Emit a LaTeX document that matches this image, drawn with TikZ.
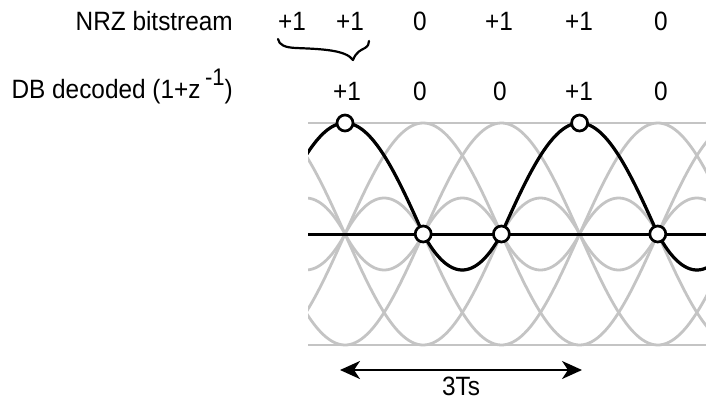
\documentclass[tikz,border=0pt]{standalone}
\usepackage{fontspec}
\setmainfont{Liberation Sans}[FakeStretch=0.92]
\usetikzlibrary{arrows.meta}
\definecolor{eyegray}{RGB}{196,196,196}
\tikzset{
  lbl/.style={font=\fontsize{26.5}{30}\selectfont, inner sep=0pt, text=black},
  graycurve/.style={draw=eyegray, line width=2.8pt, line join=round},
  blackcurve/.style={draw=black, line width=3.2pt, line join=round, line cap=round},
  samplept/.style={circle, draw=black, fill=white, line width=2.7pt, minimum size=16pt, inner sep=0pt},
}
\begin{document}
\begin{tikzpicture}[x=1pt,y=-1pt]
\useasboundingbox (0,0) rectangle (706,402);
\def\T{78.2}
\def\H{36}
% labels
\node[lbl, anchor=base east] (nrz) at (233,30) {NRZ bitstream};
\node[lbl, anchor=base east] (db) at (233,98) {DB decoded (1+z\,\raisebox{13pt}{\fontsize{24}{24}\selectfont -1})};
\node[lbl, anchor=base] (n1) at (292,30) {+1};
\node[lbl, anchor=base] (n2) at (350,30) {+1};
\node[lbl, anchor=base] (n3) at (420,30) {0};
\node[lbl, anchor=base] (n4) at (499,30) {+1};
\node[lbl, anchor=base] (n5) at (579,30) {+1};
\node[lbl, anchor=base] (n6) at (661,30) {0};
\node[lbl, anchor=base] (d1) at (347,100) {+1};
\node[lbl, anchor=base] (d2) at (420,100) {0};
\node[lbl, anchor=base] (d3) at (500,100) {0};
\node[lbl, anchor=base] (d4) at (579,100) {+1};
\node[lbl, anchor=base] (d5) at (661,100) {0};
% brace
\draw[line width=2.2pt, line cap=round, line join=round]
  (278,39) .. controls (279,45) and (285,47.5) .. (296,48)
  .. controls (322,49) and (346,50) .. (353,60)
  .. controls (356,52) and (361,50) .. (365,48)
  .. controls (368,46) and (369,44) .. (369,41);
% eye diagram
\begin{scope}
\clip (308,100) rectangle (706,360);
\draw[graycurve] (300,123) -- (710,123);
\draw[graycurve] (300,345) -- (710,345);
\foreach \k in {0,1,2,3}{
  \draw[graycurve] plot[domain=300:710, samples=140, smooth] (\x, {234-111*cos(90*((\x-345)/\T) + 90*\k)});
}
\foreach \xa in {266.8,345,423.2,501.4,579.6,657.8}{
  \draw[graycurve] plot[domain=\xa:\xa+\T, samples=30, smooth]
      (\x, {234-4*\H*((\x-\xa)/\T)*(1-(\x-\xa)/\T)});
  \draw[graycurve] plot[domain=\xa:\xa+\T, samples=30, smooth]
      (\x, {234+4*\H*((\x-\xa)/\T)*(1-(\x-\xa)/\T)});
}
\draw[black, line width=3pt] (300,234) -- (710,234);
\draw[blackcurve]
  plot[domain=300:423.2, samples=60, smooth] (\x, {234-111*cos(90*((\x-345)/\T))})
  -- plot[domain=423.2:501.4, samples=30, smooth]
      (\x, {234+4*\H*((\x-423.2)/\T)*(1-(\x-423.2)/\T)})
  -- plot[domain=501.4:657.8, samples=80, smooth] (\x, {234-111*cos(90*((\x-579.6)/\T))})
  -- plot[domain=657.8:736, samples=30, smooth]
      (\x, {234+4*\H*((\x-657.8)/\T)*(1-(\x-657.8)/\T)});
\end{scope}
\node[samplept] (s1) at (345,123) {};
\node[samplept] (s2) at (423.2,234) {};
\node[samplept] (s3) at (501.4,234) {};
\node[samplept] (s4) at (579.6,123) {};
\node[samplept] (s5) at (657.8,234) {};
% arrow
\coordinate (al) at (340,370);
\coordinate (ar) at (582,370);
\draw[line width=2.5pt, {Stealth[length=20pt,width=18pt,inset=6pt]}-{Stealth[length=20pt,width=18pt,inset=6pt]}] (al) -- (ar);
\node[lbl, anchor=base] (ts) at (461,395) {3Ts};
\end{tikzpicture}
\end{document}
